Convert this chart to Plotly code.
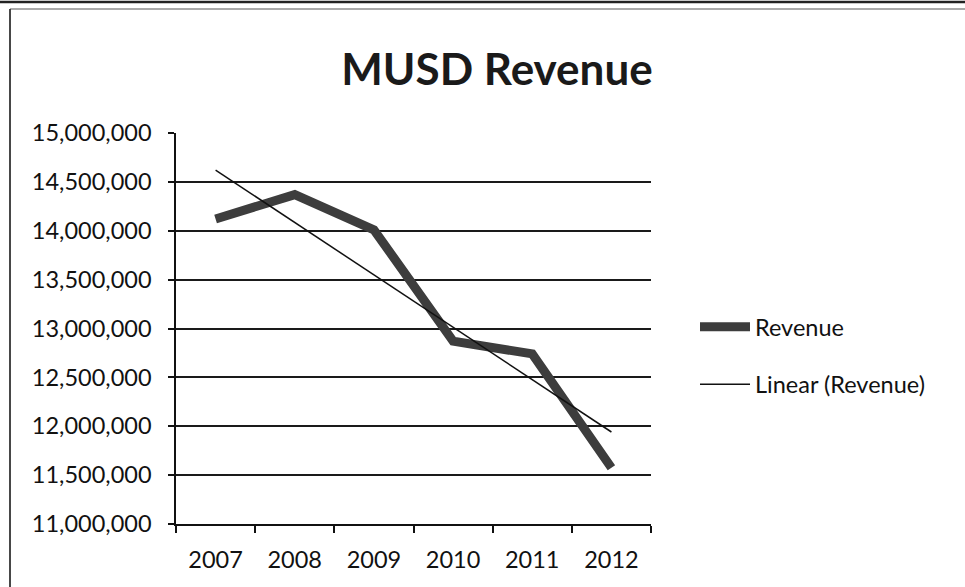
import numpy as np
import plotly.graph_objects as go

# ---- data ----
years = ["2007", "2008", "2009", "2010", "2011", "2012"]
revenue = [14120000, 14370000, 14010000, 12870000, 12740000, 11575000]
y_ticks = [11000000, 11500000, 12000000, 12500000, 13000000,
           13500000, 14000000, 14500000, 15000000]

# Linear trendline (least-squares fit, as Excel's "Linear" trendline)
idx = np.arange(len(revenue))
slope, intercept = np.polyfit(idx, revenue, 1)
trend = list(slope * idx + intercept)

W, H = 965, 587
L, R, T, B = 176, 314, 133, 63
PW, PH = W - L - R, H - T - B


def px_x(px):
    return (px - L) / PW


def px_y(py):
    return (H - B - py) / PH


FONT = "Lato"

fig = go.Figure()
fig.add_trace(go.Scatter(
    x=years, y=revenue, mode="lines", name="Revenue",
    line=dict(color="#3d3d3d", width=9), legendgroup="a",
))
fig.add_trace(go.Scatter(
    x=years, y=trend, mode="lines", name="Linear (Revenue)",
    line=dict(color="#111111", width=1.5), legendgroup="b",
))

fig.update_layout(
    width=W, height=H,
    margin=dict(l=L, r=R, t=T, b=B),
    paper_bgcolor="white", plot_bgcolor="white",
    font=dict(family=FONT, size=23.5, color="#111111"),
    title=dict(
        text="<b>MUSD Revenue</b>",
        font=dict(family=FONT, size=44, color="#1a1a1a"),
        x=497 / W, xanchor="center", xref="container",
        y=1 - 70 / H, yanchor="middle", yref="container",
    ),
    showlegend=True,
    legend=dict(
        xref="container", yref="container",
        x=695 / W, xanchor="left",
        y=1 - 305 / H, yanchor="top",
        font=dict(family=FONT, size=23.5, color="#111111"),
        traceorder="grouped", tracegroupgap=24,
        bgcolor="rgba(0,0,0,0)", itemwidth=50,
    ),
    xaxis=dict(
        type="category", range=[-0.5, 5.5],
        showline=True, linecolor="#111111", linewidth=1.5,
        ticks="outside", tickson="boundaries", ticklen=7,
        tickcolor="#111111", tickwidth=1.5,
        showgrid=False, zeroline=False,
        ticklabelstandoff=14,
        tickfont=dict(family=FONT, size=23.5, color="#111111"),
    ),
    yaxis=dict(
        range=[11000000, 15000000],
        tickvals=y_ticks, tickformat=",d",
        showline=True, linecolor="#111111", linewidth=1.5,
        ticks="outside", ticklen=6, tickcolor="#111111", tickwidth=1.5,
        showgrid=True, gridcolor="#1a1a1a", gridwidth=1.5,
        zeroline=False,
        ticklabelstandoff=12,
        tickfont=dict(family=FONT, size=23.5, color="#111111"),
    ),
    shapes=[
        # scanned frame around the chart
        dict(type="line", xref="paper", yref="paper",
             x0=px_x(0), x1=px_x(W), y0=px_y(2), y1=px_y(2),
             line=dict(color="#222222", width=2.5)),
        dict(type="line", xref="paper", yref="paper",
             x0=px_x(10), x1=px_x(W), y0=px_y(9), y1=px_y(9),
             line=dict(color="#555555", width=1.2)),
        dict(type="line", xref="paper", yref="paper",
             x0=px_x(10), x1=px_x(10), y0=px_y(9), y1=px_y(H),
             line=dict(color="#333333", width=1.8)),
    ],
)

fig.write_html(
    "out.html",
    config={"displayModeBar": False},
    post_script="document.body.style.margin='0';document.body.style.overflow='hidden';",
)
